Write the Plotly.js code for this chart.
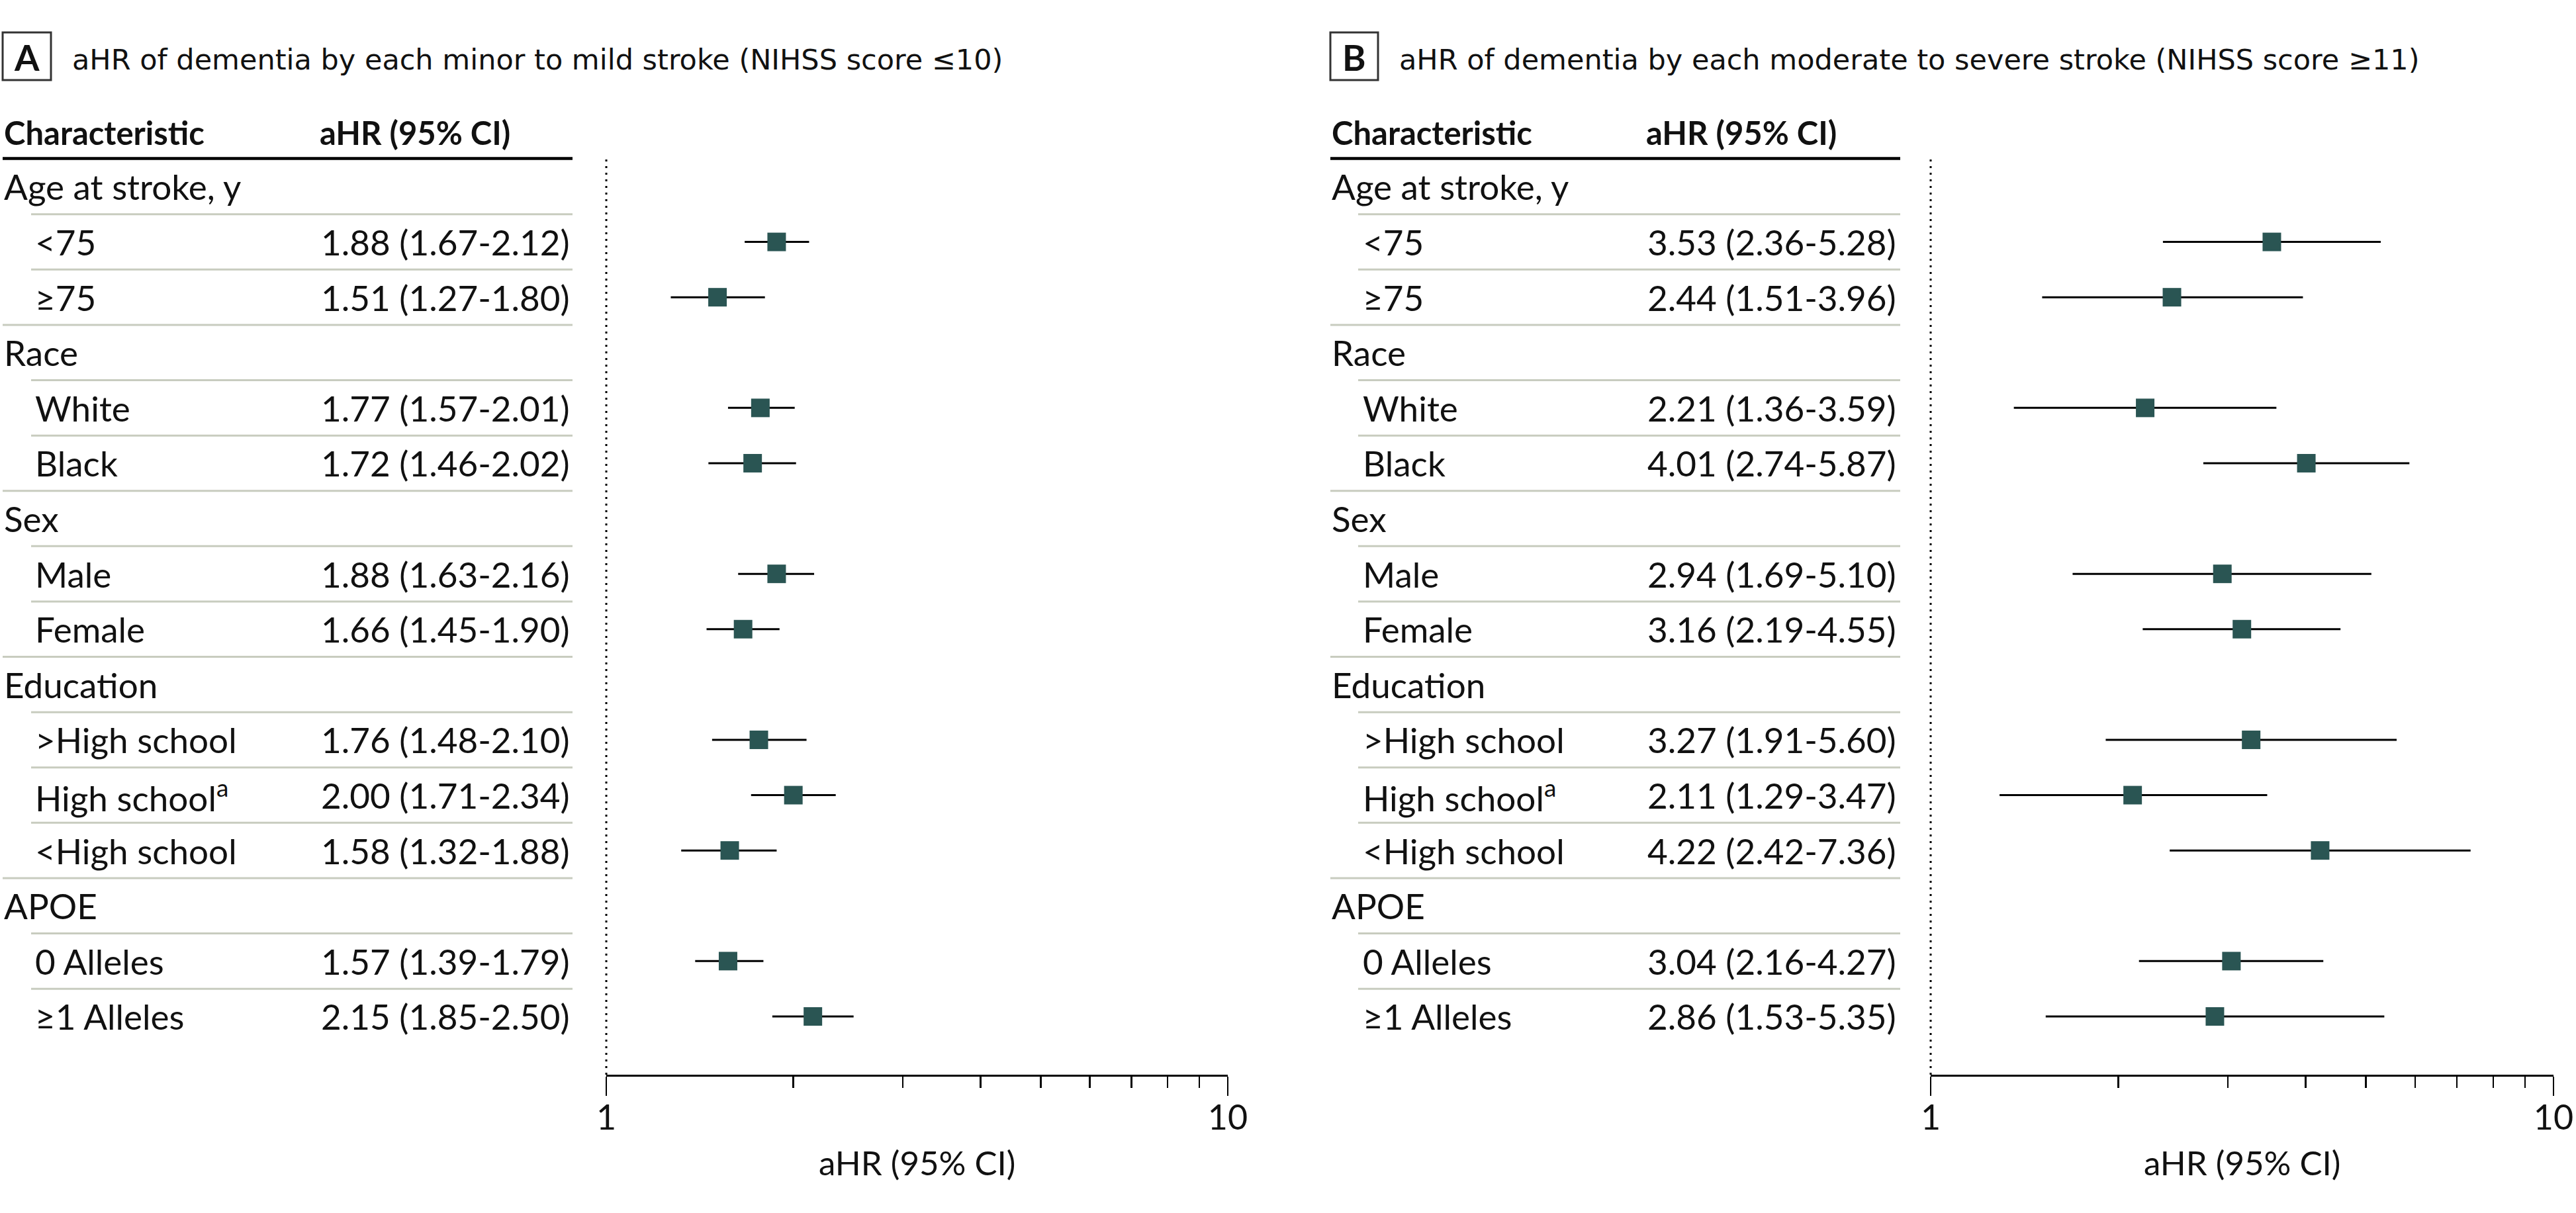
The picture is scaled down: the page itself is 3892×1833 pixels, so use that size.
<!DOCTYPE html>
<html>
<head>
<meta charset="utf-8">
<script src="https://cdn.plot.ly/plotly-3.0.1.min.js"></script>
<style>
  html, body { margin: 0; padding: 0; background: #fff; }
  #chart { width: 3892px; height: 1833px; }
</style>
</head>
<body>
<div id="chart"></div>
<script>
const W = 3892, H = 1833;

const rowLabels = ['Age at stroke, y', '&lt;75', '≥75', 'Race', 'White', 'Black', 'Sex', 'Male', 'Female',
  'Education', '&gt;High school', 'High school<sup>a</sup>', '&lt;High school', 'APOE', '0 Alleles', '≥1 Alleles'];
const rowIsGroup = [true, false, false, true, false, false, true, false, false, true, false, false, false, true, false, false];

// A: minor to mild stroke
const hrA    = [null, 1.88, 1.51, null, 1.77, 1.72, null, 1.88, 1.66, null, 1.76, 2.00, 1.58, null, 1.57, 2.15];
const lowerA = [null, 1.67, 1.27, null, 1.57, 1.46, null, 1.63, 1.45, null, 1.48, 1.71, 1.32, null, 1.39, 1.85];
const upperA = [null, 2.12, 1.80, null, 2.01, 2.02, null, 2.16, 1.90, null, 2.10, 2.34, 1.88, null, 1.79, 2.50];

// B: moderate to severe stroke
const hrB    = [null, 3.53, 2.44, null, 2.21, 4.01, null, 2.94, 3.16, null, 3.27, 2.11, 4.22, null, 3.04, 2.86];
const lowerB = [null, 2.36, 1.51, null, 1.36, 2.74, null, 1.69, 2.19, null, 1.91, 1.29, 2.42, null, 2.16, 1.53];
const upperB = [null, 5.28, 3.96, null, 3.59, 5.87, null, 5.10, 4.55, null, 5.60, 3.47, 7.36, null, 4.27, 5.35];

const panelLetters = ['A', 'B'];
const panelTitles = ['aHR of dementia by each minor to mild stroke (NIHSS score ≤10)',
  'aHR of dementia by each moderate to severe stroke (NIHSS score ≥11)'];
const tickVals = [1, 10];
const minorTickVals = [2, 3, 4, 5, 6, 7, 8, 9];

const px = x => x / W;
const py = y => 1 - y / H;

const TEXT = '#111';
const BOX_COLOR = '#2a5553';
const FONT = 'Lato, "Open Sans", sans-serif';
const TITLE_FONT = '"DejaVu Sans", Lato, sans-serif';
const ROW_SIZE = 53;

// pixel positions of each panel's table and axis
const panels = [
  { hr: hrA, lo: lowerA, hi: upperA, left: 4, indent: 47, labelX: 51, col2: 483, tableEnd: 865,
    box: [4, 77], titleX: 107, axis: [916, 1855], xa: 'x' },
  { hr: hrB, lo: lowerB, hi: upperB, left: 2010, indent: 2052, labelX: 2057, col2: 2487, tableEnd: 2871,
    box: [2010, 2082], titleX: 2112, axis: [2917, 3858], xa: 'x2' }
];

const traces = [];
const annotations = [];
const shapes = [];

panels.forEach((p, k) => {
  const idx = p.hr.map((v, i) => v === null ? -1 : i).filter(i => i >= 0);

  traces.push({
    type: 'scatter',
    mode: 'markers',
    xaxis: p.xa,
    yaxis: 'y',
    x: idx.map(i => p.hr[i]),
    y: idx,
    marker: { symbol: 'square', size: 28, color: BOX_COLOR, line: { width: 0 } },
    error_x: {
      type: 'data', symmetric: false,
      array: idx.map(i => p.hi[i] - p.hr[i]),
      arrayminus: idx.map(i => p.hr[i] - p.lo[i]),
      width: 0, thickness: 3, color: '#000'
    },
    hoverinfo: 'skip',
    showlegend: false
  });

  // panel letter box + title
  shapes.push({ type: 'rect', xref: 'paper', yref: 'paper',
    x0: px(p.box[0]), x1: px(p.box[1]), y0: py(49), y1: py(121),
    line: { color: '#333', width: 3 } });
  annotations.push({ xref: 'paper', yref: 'paper', x: px((p.box[0] + p.box[1]) / 2), y: py(86),
    text: '<b>' + panelLetters[k] + '</b>', showarrow: false, xanchor: 'center', yanchor: 'middle',
    font: { family: FONT, size: 54, color: TEXT } });
  annotations.push({ xref: 'paper', yref: 'paper', x: px(p.titleX), y: py(90),
    text: panelTitles[k], showarrow: false, xanchor: 'left', yanchor: 'middle',
    font: { family: TITLE_FONT, size: 43, color: TEXT } });

  // column headers
  annotations.push({ xref: 'paper', yref: 'paper', x: px(p.left), y: py(200),
    text: '<b>Characteristic</b>', showarrow: false, xanchor: 'left', yanchor: 'middle',
    font: { family: FONT, size: 49, color: TEXT } });
  annotations.push({ xref: 'paper', yref: 'paper', x: px(p.col2 - 2), y: py(200),
    text: '<b>aHR (95% CI)</b>', showarrow: false, xanchor: 'left', yanchor: 'middle',
    font: { family: FONT, size: 49, color: TEXT } });
  shapes.push({ type: 'line', xref: 'paper', yref: 'paper',
    x0: px(p.left), x1: px(p.tableEnd), y0: py(239.5), y1: py(239.5),
    line: { color: '#000', width: 4.5 } });

  // rows
  rowLabels.forEach((lab, i) => {
    annotations.push({ xref: 'paper', yref: 'y', x: px(rowIsGroup[i] ? p.left : p.labelX), y: i,
      text: lab, showarrow: false, xanchor: 'left', yanchor: 'middle',
      font: { family: FONT, size: ROW_SIZE, color: TEXT } });
    if (p.hr[i] !== null) {
      annotations.push({ xref: 'paper', yref: 'y', x: px(p.col2), y: i,
        text: p.hr[i].toFixed(2) + ' (' + p.lo[i].toFixed(2) + '-' + p.hi[i].toFixed(2) + ')',
        showarrow: false, xanchor: 'left', yanchor: 'middle',
        font: { family: FONT, size: ROW_SIZE, color: TEXT } });
    }
    if (i < rowLabels.length - 1) {
      shapes.push({ type: 'line', xref: 'paper', yref: 'y',
        x0: px(rowIsGroup[i + 1] ? p.left : p.indent), x1: px(p.tableEnd), y0: i + 0.5, y1: i + 0.5,
        line: { color: '#c8ccbf', width: 3 } });
    }
  });

  // reference line at aHR = 1
  shapes.push({ type: 'line', xref: p.xa + ' domain', yref: 'y domain', x0: 0, x1: 0, y0: 0, y1: 1,
    line: { color: '#000', width: 3, dash: '3px,7px' } });

  // axis title
  annotations.push({ xref: 'paper', yref: 'paper', x: px((p.axis[0] + p.axis[1]) / 2), y: py(1756),
    text: 'aHR (95% CI)', showarrow: false, xanchor: 'center', yanchor: 'middle',
    font: { family: FONT, size: 51, color: TEXT } });
});

function xAxis(p) {
  return {
    type: 'log', range: [0, 1], domain: [px(p.axis[0]), px(p.axis[1])], anchor: 'y',
    showgrid: false, zeroline: false, fixedrange: true,
    showline: true, linecolor: '#000', linewidth: 2.5,
    tickmode: 'array', tickvals: tickVals, ticktext: tickVals.map(String),
    ticks: 'outside', ticklen: 29, tickwidth: 2.5, tickcolor: '#000',
    ticklabelstandoff: -11,
    tickfont: { family: FONT, size: 52, color: TEXT },
    minor: { tickvals: minorTickVals, ticks: 'outside', ticklen: 17, tickwidth: 2.5, tickcolor: '#000', showgrid: false }
  };
}

const layout = {
  width: W, height: H,
  margin: { l: 0, r: 0, t: 0, b: 0 },
  paper_bgcolor: '#fff', plot_bgcolor: 'rgba(0,0,0,0)',
  font: { family: FONT, color: TEXT },
  showlegend: false,
  xaxis: xAxis(panels[0]),
  xaxis2: xAxis(panels[1]),
  yaxis: { domain: [py(1624), py(238)], range: [16.053, -0.526], visible: false, fixedrange: true },
  annotations: annotations,
  shapes: shapes
};

Plotly.newPlot('chart', traces, layout, { displayModeBar: false, staticPlot: true });
</script>
</body>
</html>
